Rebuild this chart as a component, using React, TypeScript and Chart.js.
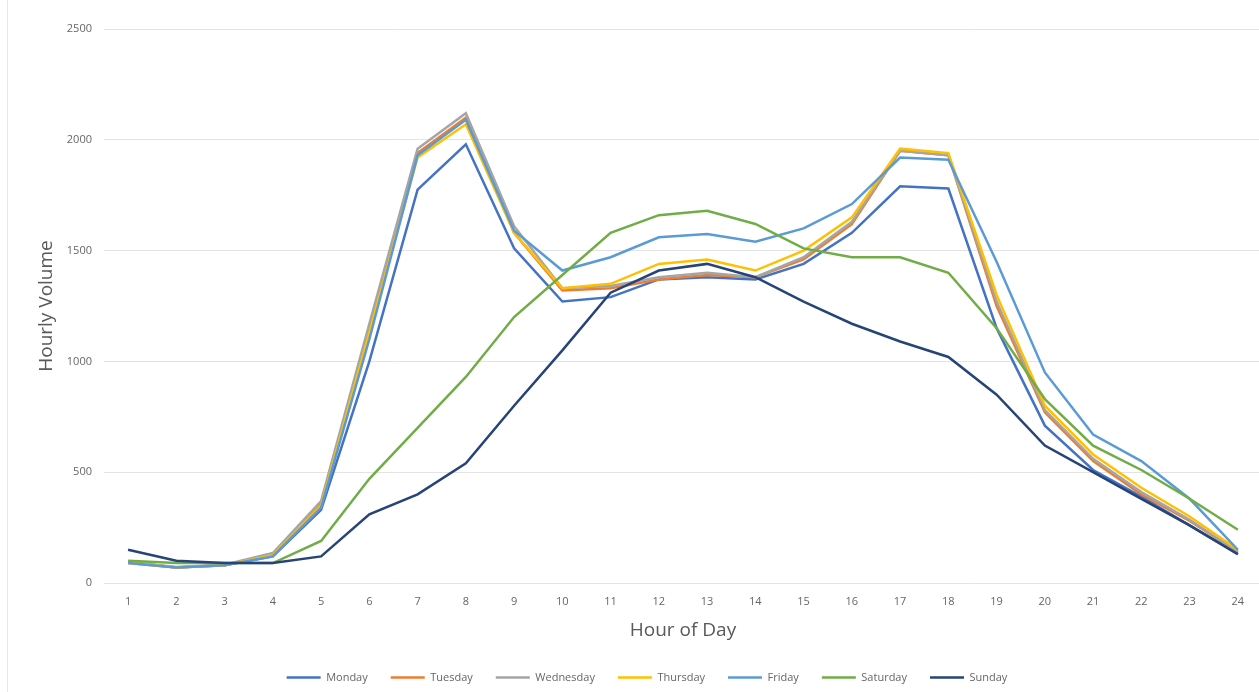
import React, { useEffect, useRef } from "react";
import { Chart, registerables } from "chart.js";

Chart.register(...registerables);

const hours = ["1","2","3","4","5","6","7","8","9","10","11","12","13","14","15","16","17","18","19","20","21","22","23","24"];
const seriesNames = ["Monday","Tuesday","Wednesday","Thursday","Friday","Saturday","Sunday"];
const seriesColors = ["#4472C4","#ED7D31","#A5A5A5","#FFC000","#5B9BD5","#70AD47","#264478"];

const monday = [95,70,80,120,330,1000,1775,1980,1510,1270,1290,1370,1380,1370,1440,1580,1790,1780,1150,710,510,390,260,130];
const tuesday = [90,70,80,130,360,1150,1940,2100,1580,1320,1330,1370,1390,1380,1460,1620,1950,1930,1250,770,550,400,280,140];
const wednesday = [95,72,82,135,370,1170,1960,2120,1610,1330,1340,1380,1400,1380,1470,1630,1950,1930,1270,780,560,410,285,140];
const thursday = [92,70,80,125,350,1130,1920,2070,1580,1330,1350,1440,1460,1410,1500,1650,1960,1940,1300,800,580,430,300,150];
const friday = [90,70,80,120,340,1100,1930,2090,1590,1410,1470,1560,1575,1540,1600,1710,1920,1910,1450,950,670,550,380,150];
const saturday = [100,90,90,90,190,470,700,930,1200,1390,1580,1660,1680,1620,1510,1470,1470,1400,1150,830,620,510,380,240];
const sunday = [150,100,90,90,120,310,400,540,800,1050,1310,1410,1440,1380,1270,1170,1090,1020,850,620,500,380,260,130];

const seriesData = [monday, tuesday, wednesday, thursday, friday, saturday, sunday];
const yTicks = [0, 500, 1000, 1500, 2000, 2500];

export default function App() {
  const ref = useRef<HTMLCanvasElement>(null);
  useEffect(() => {
    const font = "'Open Sans', 'Liberation Sans', sans-serif";
    const chart = new Chart(ref.current!, {
      type: "line",
      data: {
        labels: hours,
        datasets: seriesNames.map((name, i) => ({
          label: name,
          data: seriesData[i],
          borderColor: seriesColors[i],
          backgroundColor: seriesColors[i],
          borderWidth: 2.5,
          pointRadius: 0,
          tension: 0,
          order: seriesNames.length - i,
        })),
      },
      options: {
        animation: false,
        responsive: false,
        maintainAspectRatio: false,
        layout: { padding: { left: 32, right: 0, top: 29, bottom: -1 } },
        plugins: {
          tooltip: { enabled: false },
          legend: {
            position: "bottom",
            labels: {
              usePointStyle: true,
              pointStyle: "line",
              pointStyleWidth: 34,
              color: "#666666",
              font: { family: font, size: 11 },
              padding: 23,
              sort: (a: any, b: any) => a.datasetIndex - b.datasetIndex,
            },
          },
        },
        scales: {
          x: {
            offset: true,
            grid: { display: false },
            border: { display: false },
            ticks: { color: "#666666", font: { family: font, size: 11 }, padding: 4 },
            title: {
              display: true,
              text: "Hour of Day",
              color: "#595959",
              font: { family: font, size: 19 },
              padding: { top: 7, bottom: 7 },
            },
          },
          y: {
            min: 0,
            max: 2500,
            afterBuildTicks: (axis: any) => {
              axis.ticks = yTicks.map((v) => ({ value: v }));
            },
            grid: { color: "#e3e3e3", lineWidth: 1, drawTicks: false },
            border: { display: false },
            ticks: {
              color: "#666666",
              font: { family: font, size: 11 },
              padding: 12,
              callback: (v: any) => String(v),
            },
            title: {
              display: true,
              text: "Hourly Volume",
              color: "#595959",
              font: { family: font, size: 19 },
              padding: { top: 3, bottom: -3 },
            },
          },
        },
      },
    });
    return () => chart.destroy();
  }, []);
  return (
    <div style={{ position: "fixed", left: 0, top: 0, width: 1259, height: 692, background: "#fff", overflow: "hidden" }}>
      <div style={{ position: "absolute", left: 7, top: 0, width: 1, height: 692, background: "#e6e6e6" }} />
      <canvas ref={ref} width={1262} height={692} style={{ display: "block" }} />
    </div>
  );
}
